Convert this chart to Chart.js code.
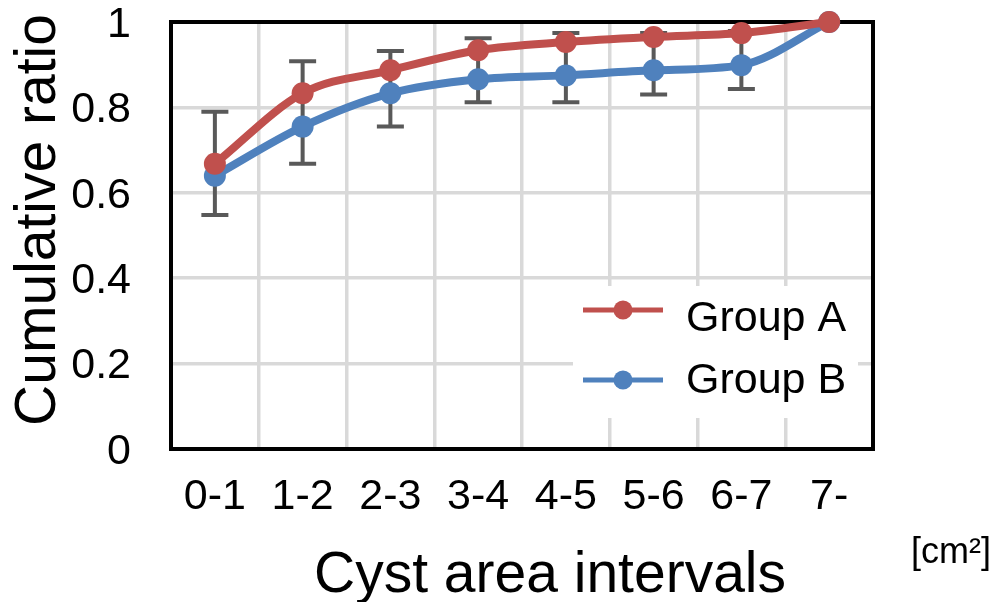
<!DOCTYPE html>
<html>
<head>
<meta charset="utf-8">
<title>Cumulative ratio by cyst area</title>
<script src="https://cdn.jsdelivr.net/npm/chart.js@4/dist/chart.umd.min.js"></script>
<style>
  html, body { margin: 0; padding: 0; background: #ffffff; }
  #wrap { width: 1000px; height: 602px; position: relative; }
</style>
</head>
<body>
<div id="wrap"><canvas id="c" width="1000" height="602"></canvas></div>
<script>
// Cyst area intervals (cm²) and cumulative ratios per group
const categories = ['0-1', '1-2', '2-3', '3-4', '4-5', '5-6', '6-7', '7-'];
const groupA = [0.668, 0.833, 0.887, 0.934, 0.953, 0.965, 0.974, 1.0];
const groupB = [0.640, 0.755, 0.833, 0.866, 0.875, 0.887, 0.899, 1.0];
// error bars: upward for Group A, downward for Group B
const groupAErrUp = [0.122, 0.075, 0.045, 0.028, 0.021, 0.009, 0.005, 0];
const groupBErrDown = [0.092, 0.087, 0.078, 0.054, 0.063, 0.057, 0.056, 0];
const yTickLabels = ['0', '0.2', '0.4', '0.6', '0.8', '1'];
const seriesNames = ['Group A', 'Group B'];
const xTitle = 'Cyst area intervals';
const yTitle = 'Cumulative ratio';
const unitLabel = '[cm²]';

const RED = '#C0504D';
const BLUE = '#4F81BD';
const FONT = '"Liberation Sans", Arial, Helvetica, sans-serif';

// Frame, inset legend and error bars drawn under the data lines
const underlayPlugin = {
  id: 'underlay',
  beforeDatasetsDraw(chart) {
    const { ctx, chartArea: a, scales } = chart;
    const x = scales.x, y = scales.y;
    ctx.save();

    // plot frame
    ctx.strokeStyle = '#000000';
    ctx.lineWidth = 4;
    ctx.strokeRect(a.left, a.top, a.right - a.left, a.bottom - a.top);

    // legend box (covers grid lines)
    ctx.fillStyle = '#ffffff';
    ctx.fillRect(573, 286, 285, 132);
    const rows = [
      { name: seriesNames[0], color: RED, lineY: 310, textY: 319 },
      { name: seriesNames[1], color: BLUE, lineY: 380, textY: 381 }
    ];
    rows.forEach(r => {
      ctx.strokeStyle = r.color;
      ctx.lineWidth = 5;
      ctx.lineCap = 'butt';
      ctx.beginPath();
      ctx.moveTo(583, r.lineY);
      ctx.lineTo(663, r.lineY);
      ctx.stroke();
      ctx.fillStyle = r.color;
      ctx.beginPath();
      ctx.arc(623, r.lineY, 9.5, 0, Math.PI * 2);
      ctx.fill();
      ctx.fillStyle = '#000000';
      ctx.font = '43px ' + FONT;
      ctx.textAlign = 'left';
      ctx.textBaseline = 'middle';
      ctx.fillText(r.name, 686, r.textY);
    });

    // error bars
    ctx.strokeStyle = '#595959';
    ctx.lineWidth = 4;
    const cap = 13.5;
    categories.forEach((c, i) => {
      if (groupAErrUp[i] === 0 && groupBErrDown[i] === 0) return;
      const px = x.getPixelForValue(i);
      const top = y.getPixelForValue(groupA[i] + groupAErrUp[i]);
      const bot = y.getPixelForValue(groupB[i] - groupBErrDown[i]);
      ctx.beginPath();
      ctx.moveTo(px, top); ctx.lineTo(px, bot);
      ctx.moveTo(px - cap, top); ctx.lineTo(px + cap, top);
      ctx.moveTo(px - cap, bot); ctx.lineTo(px + cap, bot);
      ctx.stroke();
    });
    ctx.restore();
  },
  afterDraw(chart) {
    const { ctx } = chart;
    ctx.save();
    ctx.fillStyle = '#000000';
    ctx.font = '57px ' + FONT;
    ctx.textAlign = 'center';
    ctx.textBaseline = 'alphabetic';
    ctx.fillText(xTitle, 550, 592);

    ctx.save();
    ctx.translate(55, 220);
    ctx.rotate(-Math.PI / 2);
    ctx.fillText(yTitle, 0, 0);
    ctx.restore();

    ctx.font = '36px ' + FONT;
    ctx.textAlign = 'right';
    ctx.fillText(unitLabel, 991, 563);
    ctx.restore();
  }
};

const lineStyle = (color) => ({
  borderColor: color,
  backgroundColor: color,
  pointBackgroundColor: color,
  pointBorderColor: color,
  borderWidth: 8,
  pointRadius: 11,
  pointBorderWidth: 0,
  pointHoverRadius: 11,
  cubicInterpolationMode: 'monotone',
  fill: false,
  clip: false
});

new Chart(document.getElementById('c'), {
  type: 'line',
  data: {
    labels: categories,
    datasets: [
      Object.assign({ label: seriesNames[0], data: groupA }, lineStyle(RED)),
      Object.assign({ label: seriesNames[1], data: groupB }, lineStyle(BLUE))
    ]
  },
  options: {
    responsive: false,
    devicePixelRatio: 1,
    animation: false,
    layout: { autoPadding: false, padding: { top: 22, right: 127, left: 0, bottom: 0 } },
    plugins: { legend: { display: false }, tooltip: { enabled: false } },
    scales: {
      x: {
        offset: true,
        grid: { offset: true, color: '#D9D9D9', lineWidth: 3.5, drawTicks: false },
        border: { display: false },
        ticks: { color: '#000000', font: { family: FONT, size: 43 }, padding: 22, maxRotation: 0, autoSkip: false },
        afterFit(s) { s.height = 153; s.paddingLeft = 0; s.paddingRight = 0; }
      },
      y: {
        min: 0,
        max: 1,
        grid: { color: '#D9D9D9', lineWidth: 3.5, drawTicks: false },
        border: { display: false },
        ticks: {
          stepSize: 0.2,
          color: '#000000',
          font: { family: FONT, size: 43 },
          padding: 40,
          labelOffset: 3,
          callback: (v, i) => yTickLabels[i]
        },
        afterFit(s) { s.width = 171; s.paddingTop = 0; s.paddingBottom = 0; }
      }
    }
  },
  plugins: [underlayPlugin]
});
</script>
</body>
</html>
